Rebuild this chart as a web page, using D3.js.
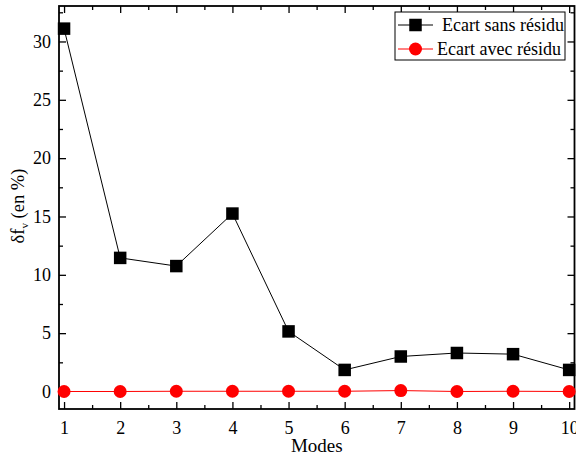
<!DOCTYPE html>
<html>
<head>
<meta charset="utf-8">
<script src="https://cdn.jsdelivr.net/npm/d3@7"></script>
<style>
  html, body { margin: 0; padding: 0; background: #fff; }
  svg { display: block; }
</style>
</head>
<body>
<svg id="chart" width="576" height="457"></svg>
<script>
// Relative frequency error per mode
const modes = [1, 2, 3, 4, 5, 6, 7, 8, 9, 10];
const ecartSansResidu = [31.1, 11.45, 10.75, 15.25, 5.15, 1.85, 3.0, 3.3, 3.2, 1.85];
const ecartAvecResidu = [0.0, 0.0, 0.02, 0.02, 0.02, 0.02, 0.08, 0.0, 0.02, 0.0];
const seriesNames = ["Ecart sans résidu", "Ecart avec résidu"];
const xTicks = [1, 2, 3, 4, 5, 6, 7, 8, 9, 10];
const yTicks = [0, 5, 10, 15, 20, 25, 30];

const FONT = "'Liberation Serif'";

const svg = d3.select("#chart");
const frame = { left: 59, right: 574.5, top: 6, bottom: 409 };

const x = d3.scaleLinear().domain([0.91, 10.095]).range([frame.left, frame.right]);
const y = d3.scaleLinear().domain([-1.5, 33.04]).range([frame.bottom, frame.top]);

const xMinor = d3.range(1.5, 10, 1);
const yMinor = d3.range(0, 33, 2.5).filter(v => v % 5 !== 0);

const majorLen = 7, minorLen = 4;

// Inward-facing ticks on all four sides
function tickAxis(axisFn, scale, ticks, len, transform, padding) {
  const labels = padding != null;
  const g = svg.append("g").attr("transform", transform)
    .call(axisFn(scale).tickValues(ticks).tickSize(-len).tickPadding(labels ? padding : 0)
      .tickFormat(labels ? d3.format("d") : ""));
  g.select(".domain").remove();
  g.selectAll(".tick line").attr("stroke", "#000").attr("stroke-width", 1.3);
  g.selectAll(".tick text")
    .style("font-family", FONT).style("font-size", "18px").attr("fill", "#000");
  return g;
}

tickAxis(d3.axisBottom, x, xTicks, majorLen, `translate(0,${frame.bottom})`, 12);
tickAxis(d3.axisBottom, x, xMinor, minorLen, `translate(0,${frame.bottom})`);
tickAxis(d3.axisTop, x, xTicks, majorLen, `translate(0,${frame.top})`);
tickAxis(d3.axisTop, x, xMinor, minorLen, `translate(0,${frame.top})`);
tickAxis(d3.axisLeft, y, yTicks, majorLen, `translate(${frame.left},0)`, 8);
tickAxis(d3.axisLeft, y, yMinor, minorLen, `translate(${frame.left},0)`);
tickAxis(d3.axisRight, y, yTicks, majorLen, `translate(${frame.right},0)`);
tickAxis(d3.axisRight, y, yMinor, minorLen, `translate(${frame.right},0)`);

// Plot frame
svg.append("rect")
  .attr("x", frame.left).attr("y", frame.top)
  .attr("width", frame.right - frame.left).attr("height", frame.bottom - frame.top)
  .attr("fill", "none").attr("stroke", "#000").attr("stroke-width", 1.8);

// Axis titles
svg.append("text")
  .attr("x", (frame.left + frame.right) / 2).attr("y", 451.5)
  .attr("text-anchor", "middle")
  .style("font-family", FONT).style("font-size", "19px").text("Modes");

const yTitle = svg.append("text")
  .attr("transform", "translate(24,206) rotate(-90)")
  .attr("text-anchor", "middle")
  .style("font-family", FONT).style("font-size", "18.5px");
yTitle.append("tspan").text("δf");
yTitle.append("tspan").attr("dy", 4).style("font-size", "11px").text("v");
yTitle.append("tspan").attr("dy", -4).text(" (en %)");

const line = d3.line().x((d, i) => x(modes[i])).y(d => y(d));

// Series: squares (black) and circles (red)
svg.append("path").datum(ecartSansResidu).attr("d", line)
  .attr("fill", "none").attr("stroke", "#000").attr("stroke-width", 1);
svg.append("path").datum(ecartAvecResidu).attr("d", line)
  .attr("fill", "none").attr("stroke", "#ff0000").attr("stroke-width", 1);

const sq = 12.5;
svg.append("g").selectAll("rect").data(ecartSansResidu).join("rect")
  .attr("x", (d, i) => x(modes[i]) - sq / 2).attr("y", d => y(d) - sq / 2)
  .attr("width", sq).attr("height", sq).attr("fill", "#000");

svg.append("g").selectAll("circle").data(ecartAvecResidu).join("circle")
  .attr("cx", (d, i) => x(modes[i])).attr("cy", d => y(d))
  .attr("r", 6.5).attr("fill", "#ff0000");

// Legend
const legend = svg.append("g");
legend.append("rect").attr("x", 395).attr("y", 12).attr("width", 170).attr("height", 48)
  .attr("fill", "#fff").attr("stroke", "#000").attr("stroke-width", 1);
const rows = [
  { name: seriesNames[0], color: "#000", shape: "square", cy: 25 },
  { name: seriesNames[1], color: "#ff0000", shape: "circle", cy: 49 }
];
rows.forEach((r, i) => {
  legend.append("line").attr("x1", 398).attr("x2", 433).attr("y1", r.cy).attr("y2", r.cy)
    .attr("stroke", r.color).attr("stroke-width", 1);
  if (r.shape === "square") {
    legend.append("rect").attr("x", 415.5 - sq / 2).attr("y", r.cy - sq / 2)
      .attr("width", sq).attr("height", sq).attr("fill", r.color);
  } else {
    legend.append("circle").attr("cx", 415.5).attr("cy", r.cy).attr("r", 6.5).attr("fill", r.color);
  }
  legend.append("text").attr("x", i === 0 ? 442 : 437).attr("y", r.cy + 6)
    .style("font-family", FONT).style("font-size", "18px").text(r.name);
});
</script>
</body>
</html>
